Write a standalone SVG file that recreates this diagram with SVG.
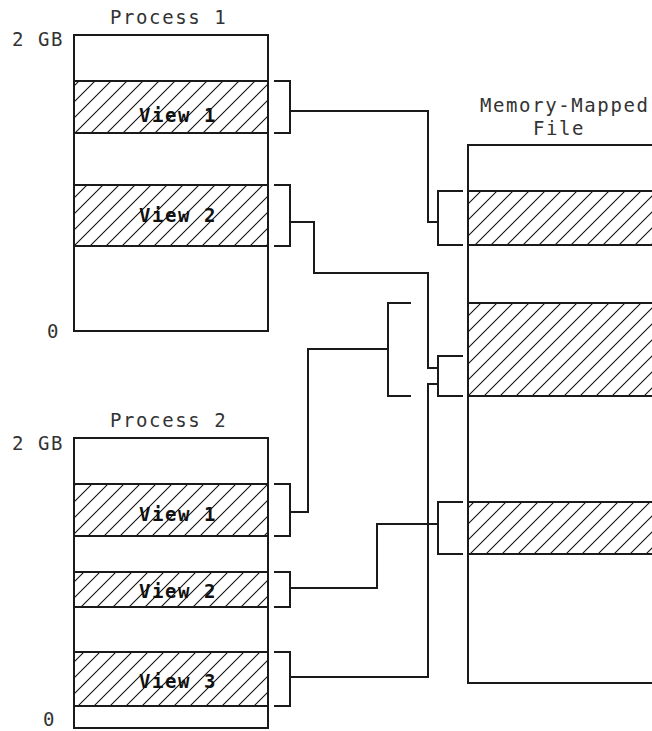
<svg xmlns="http://www.w3.org/2000/svg" width="652" height="731" viewBox="0 0 652 731">
<defs>
<pattern id="hatch" patternUnits="userSpaceOnUse" width="16" height="16">
<path d="M-2,18 L18,-2 M-18,18 L2,-2 M14,18 L34,-2" stroke="#111" stroke-width="1.1" fill="none"/>
</pattern>
<style>
.frame{fill:#fff;stroke:#1a1a1a;stroke-width:2}
.band{fill:url(#hatch);stroke:#1a1a1a;stroke-width:2}
.conn path{fill:none;stroke:#1a1a1a;stroke-width:2}
.lbl{font-family:"DejaVu Sans Mono","Liberation Mono",monospace;font-size:19px;letter-spacing:1.6px;fill:#333}
.vlbl{font-family:"DejaVu Sans Mono","Liberation Mono",monospace;font-size:19px;font-weight:bold;letter-spacing:1.6px;fill:#111;text-anchor:middle}
</style>
</defs>
<rect width="652" height="731" fill="#fff"/>

<g id="process1">
<text class="lbl" x="110" y="24">Process 1</text>
<text class="lbl" x="12" y="46">2 GB</text>
<text class="lbl" x="47" y="338">0</text>
<rect class="frame" x="74" y="35" width="194" height="296"/>
<g id="p1-view1"><rect class="band" x="74" y="81" width="194" height="52"/><text class="vlbl" x="178" y="122">View 1</text></g>
<g id="p1-view2"><rect class="band" x="74" y="185" width="194" height="61"/><text class="vlbl" x="178" y="222">View 2</text></g>
</g>

<g id="process2">
<text class="lbl" x="110" y="427">Process 2</text>
<text class="lbl" x="12" y="450">2 GB</text>
<text class="lbl" x="43" y="726">0</text>
<rect class="frame" x="74" y="438" width="194" height="290"/>
<g id="p2-view1"><rect class="band" x="74" y="484" width="194" height="52"/><text class="vlbl" x="178" y="521">View 1</text></g>
<g id="p2-view2"><rect class="band" x="74" y="572" width="194" height="35"/><text class="vlbl" x="178" y="598">View 2</text></g>
<g id="p2-view3"><rect class="band" x="74" y="652" width="194" height="54"/><text class="vlbl" x="178" y="688">View 3</text></g>
</g>

<g id="mmfile">
<text class="lbl" x="480" y="112">Memory-Mapped</text>
<text class="lbl" x="533" y="135">File</text>
<rect class="frame" x="468" y="145" width="200" height="538"/>
<rect class="band" x="468" y="191" width="200" height="54"/>
<rect class="band" x="468" y="303" width="200" height="93"/>
<rect class="band" x="468" y="502" width="200" height="52"/>
</g>

<g id="connectors" class="conn">
<path d="M274,81 H290 V133 H274"/>
<path d="M290,111 H428 V222 H438"/>
<path d="M463,191 H438 V245 H463"/>
<path d="M274,185 H290 V246 H274"/>
<path d="M290,222 H314 V273 H428 V368 H438"/>
<path d="M463,356 H438 V396 H463"/>
<path d="M411,303 H388 V396 H411"/>
<path d="M388,349 H308 V512 H290"/>
<path d="M274,484 H290 V536 H274"/>
<path d="M274,572 H290 V607 H274"/>
<path d="M290,588 H377 V524 H438"/>
<path d="M463,502 H438 V554 H463"/>
<path d="M274,652 H290 V706 H274"/>
<path d="M290,677 H428 V384 H438"/>
</g>
</svg>
